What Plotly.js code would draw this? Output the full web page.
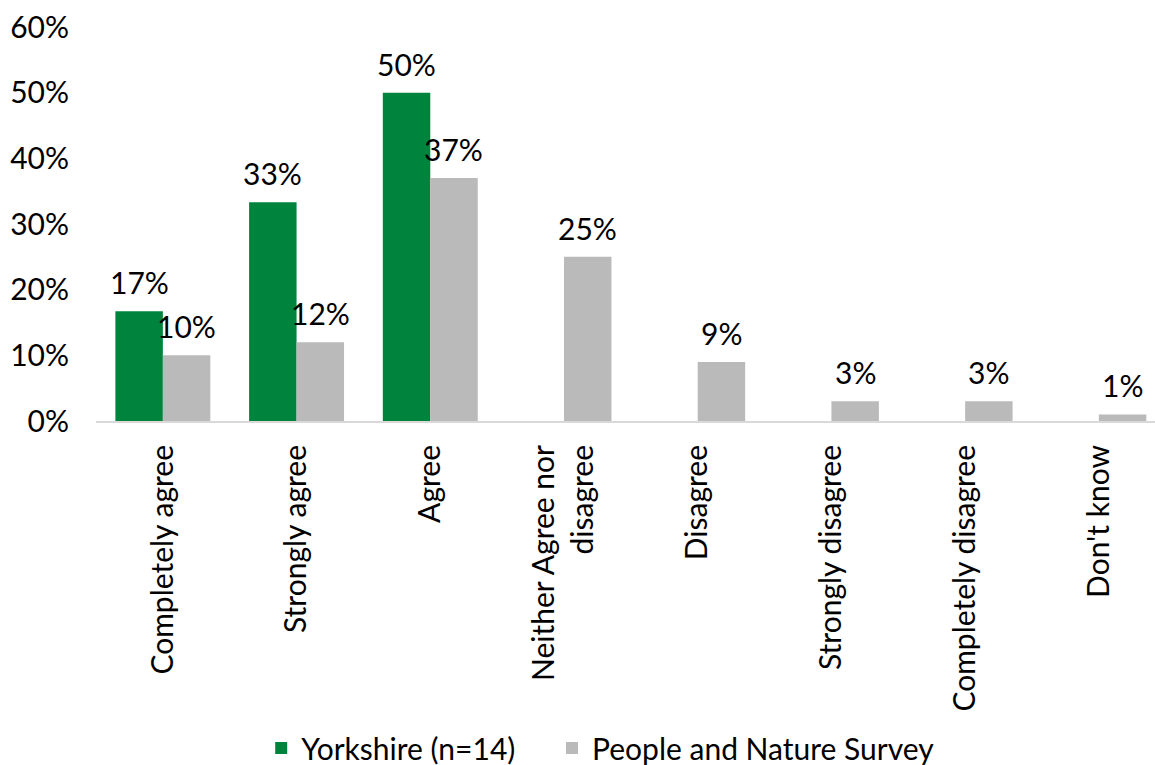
<!DOCTYPE html>
<html>
<head>
<meta charset="utf-8">
<script src="https://cdn.plot.ly/plotly-3.0.1.min.js"></script>
<style>html,body{margin:0;padding:0;background:#fff;}#chart{width:1155px;height:765px;}</style>
</head>
<body>
<div id="chart"></div>
<script>
const categories = ["Completely agree", "Strongly agree", "Agree", "Neither Agree nor<br>disagree", "Disagree", "Strongly disagree", "Completely disagree", "Don't know"];
const yorkshire = [16.7, 33.3, 50, null, null, null, null, null];
const pans = [10, 12, 37, 25, 9, 3, 3, 1];
const seriesNames = ["Yorkshire (n=14)", "People and Nature Survey"];
const yTicks = [0, 10, 20, 30, 40, 50, 60];
const yTickLabels = ["0%", "10%", "20%", "30%", "40%", "50%", "60%"];

const FONT = "Lato, 'Open Sans', sans-serif";
const FS = 30;
const colors = ['#00843D', '#BABABA'];

const series = [yorkshire, pans];
const traces = series.map((vals, i) => ({
  type: 'bar', name: seriesNames[i], x: categories, y: vals,
  marker: {color: colors[i]}, hoverinfo: 'skip',
  legend: i === 0 ? 'legend' : 'legend2'
}));

// data labels placed above bars via annotations (value-driven)
const annotations = [];
const shifts = [-23.7, 23.7];
series.forEach((vals, i) => {
  vals.forEach((v, j) => {
    if (v === null) return;
    annotations.push({
      x: categories[j], y: v, xref: 'x', yref: 'y',
      text: Math.round(v) + '%', showarrow: false,
      xanchor: 'center', yanchor: 'bottom', xshift: shifts[i], yshift: 9,
      font: {family: FONT, size: FS, color: '#000'}
    });
  });
});

const legendBase = {orientation: 'h', xanchor: 'left', y: -0.83, yanchor: 'middle',
  font: {family: FONT, size: FS, color: '#000'}, itemwidth: 30, bgcolor: 'rgba(0,0,0,0)'};

const layout = {
  width: 1155, height: 765,
  margin: {l: 96, r: 0, t: 27, b: 344, autoexpand: false},
  paper_bgcolor: '#fff', plot_bgcolor: '#fff',
  font: {family: FONT, size: FS, color: '#000'},
  barmode: 'group', bargap: 0.29, bargroupgap: 0,
  showlegend: true,
  legend: Object.assign({}, legendBase, {x: 0.156}),
  legend2: Object.assign({}, legendBase, {x: 0.4306}),
  annotations: annotations,
  xaxis: {type: 'category', range: [-0.5, 7.42], tickangle: -90, showline: true,
          linecolor: '#D9D9D9', linewidth: 2, ticks: '', showgrid: false, zeroline: false,
          ticklabelstandoff: 10,
          tickfont: {family: FONT, size: FS, color: '#000'}, automargin: false},
  yaxis: {range: [0, 60], tickvals: yTicks, ticktext: yTickLabels, showline: false, showgrid: false,
          zeroline: false, ticks: '', ticklabelstandoff: 26,
          tickfont: {family: FONT, size: FS, color: '#000'}, automargin: false}
};

Plotly.newPlot('chart', traces, layout, {displayModeBar: false, staticPlot: true});
</script>
</body>
</html>
